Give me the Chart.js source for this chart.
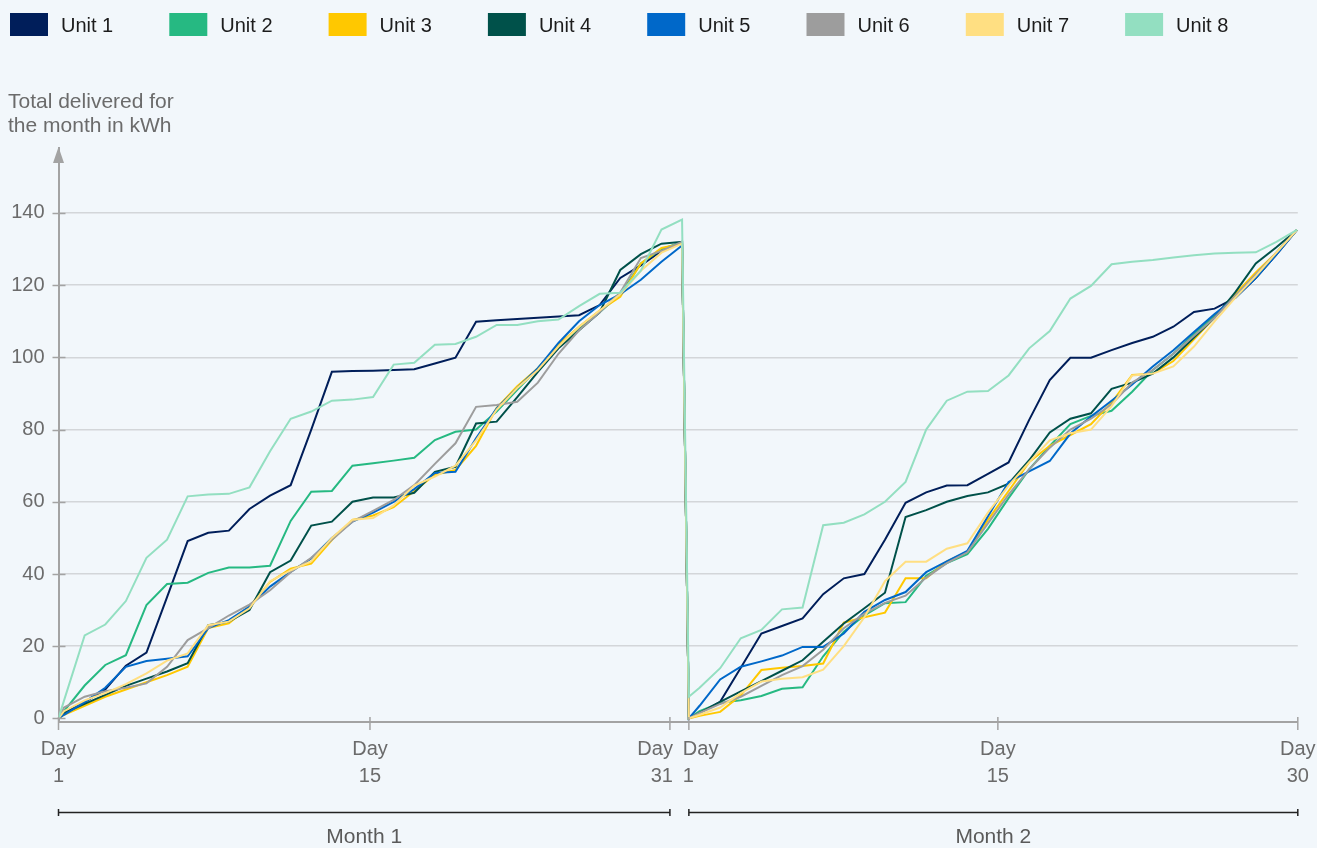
<!DOCTYPE html>
<html>
<head>
<meta charset="utf-8">
<title>Total delivered per unit</title>
<script src="https://cdn.jsdelivr.net/npm/chart.js@4.4.1/dist/chart.umd.min.js"></script>
<style>
  html, body { margin: 0; padding: 0; background: #f2f7fb; }
  #wrap { width: 1317px; height: 848px; }
</style>
</head>
<body>
<div id="wrap"><canvas id="deliveryChart" width="1317" height="848"></canvas></div>
<script>
// Series names and colours
const unitNames = ['Unit 1', 'Unit 2', 'Unit 3', 'Unit 4', 'Unit 5', 'Unit 6', 'Unit 7', 'Unit 8'];
const unitColors = ['#001e5a', '#26b982', '#ffc800', '#00514a', '#0068c9', '#9d9d9d', '#ffdf82', '#93dfc1'];

// Days of each month; 0 = meter reset at the start of the month
const month1Days = [0, 1, 2, 3, 4, 5, 6, 7, 8, 9, 10, 11, 12, 13, 14, 15, 16, 17, 18, 19, 20, 21, 22, 23, 24, 25, 26, 27, 28, 29, 30, 31];
const month2Days = [0, 1, 2, 3, 4, 5, 6, 7, 8, 9, 10, 11, 12, 13, 14, 15, 16, 17, 18, 19, 20, 21, 22, 23, 24, 25, 26, 27, 28, 29, 30];

// Cumulative kWh, month 1
const unit1Month1 = [0, 1.5, 4.5, 8, 14.6, 18.2, 33.6, 49.1, 51.4, 52, 58, 61.7, 64.6, 80, 96, 96.2, 96.3, 96.5, 96.7, 98.3, 99.9, 109.9, 110.3, 110.6, 111, 111.3, 111.7, 114.5, 122, 125.5, 129.5, 132];
const unit2Month1 = [0, 2, 9.1, 14.8, 17.5, 31.4, 37.2, 37.6, 40.3, 41.8, 41.8, 42.3, 54.7, 62.8, 63, 70, 70.7, 71.4, 72.2, 77.1, 79.4, 80, 85, 91, 97, 103, 108, 112.5, 117.5, 126, 130, 132];
const unit3Month1 = [0, 1, 3.5, 6, 8, 10, 12, 14.3, 25, 26.3, 31, 37.8, 41.5, 42.9, 49.4, 55, 56.2, 58.5, 63, 67.5, 68.8, 75.5, 86, 92, 97, 103.5, 108.5, 113, 116.8, 126, 130.3, 131.5];
const unit4Month1 = [0, 1.5, 4, 6.5, 9, 11, 13, 15.3, 25.8, 26.8, 30, 40.5, 43.7, 53.4, 54.5, 60, 61.2, 61.2, 62.5, 68.3, 69.7, 81.7, 82.2, 89, 96, 102.5, 107.5, 112.5, 124.2, 128.6, 131.5, 132];
const unit5Month1 = [0, 1, 4.5, 8.5, 14.3, 15.9, 16.5, 17.2, 25, 27.2, 31, 36.5, 40.6, 44.3, 50, 54.5, 57, 60, 63.5, 68, 68.3, 77.6, 85.9, 91.5, 97, 104, 110, 114.5, 117.5, 121.5, 126.5, 131];
const unit6Month1 = [0, 3, 6, 7.5, 8.5, 9.7, 14.3, 21.7, 25, 28.5, 31.5, 35.5, 40.5, 44.5, 49.5, 54.5, 57.5, 60.5, 64.6, 70.5, 76.2, 86.3, 86.8, 87.7, 93, 101, 107.5, 112.5, 118, 127.5, 129.5, 132];
const unit7Month1 = [0, 2, 5, 7, 9.5, 12.5, 16, 18, 25.8, 26.8, 30.5, 38, 41, 43.5, 50, 55, 55.5, 59, 64.5, 67, 70, 77, 85.5, 91.5, 96.5, 103, 108.5, 113, 117.5, 124, 129, 131.5];
const unit8Month1 = [0, 5, 23, 26, 32.5, 44.5, 49.5, 61.5, 62, 62.2, 64, 74, 83, 85, 88, 88.3, 89, 98, 98.5, 103.5, 103.7, 105.7, 109, 109, 110, 110.5, 114.2, 117.6, 117.9, 124, 135.4, 138.2];

// Cumulative kWh, month 2
const unit1Month2 = [0, 1.5, 4.6, 14, 23.5, 25.6, 27.7, 34.4, 38.8, 40, 49.5, 59.7, 62.6, 64.5, 64.6, 67.7, 70.9, 82.7, 93.7, 99.9, 99.9, 102, 104, 105.7, 108.5, 112.6, 113.5, 116.5, 122, 128.5, 135.3];
const unit2Month2 = [0, 2, 4.3, 5, 6.2, 8.2, 8.6, 17.2, 24, 28.5, 31.9, 32.2, 39.5, 43, 45.5, 52.5, 61, 69, 75.5, 81.5, 83.8, 85.2, 90.5, 96.5, 101, 106.5, 111.5, 117, 123, 129, 135.3];
const unit3Month2 = [0, 0.7, 1.8, 6.4, 13.4, 14, 14.5, 15.2, 26.5, 28, 29.3, 38.8, 38.8, 43.5, 46.1, 55, 63, 71, 75.5, 78.5, 81.5, 87.5, 95.1, 95.5, 99, 105, 111, 117.5, 123.5, 129, 135.3];
const unit4Month2 = [0, 1.5, 4.6, 7.5, 10.3, 13.2, 16.1, 21.2, 26.3, 30.5, 34.8, 55.8, 57.7, 60, 61.6, 62.6, 65, 71.5, 79.2, 83, 84.5, 91.3, 93, 95.5, 100, 105.5, 111, 118, 126, 130.5, 135.3];
const unit5Month2 = [0, 3.5, 10.8, 14.3, 15.8, 17.4, 19.8, 19.8, 23.5, 29.5, 32.8, 35, 40.5, 43.5, 46.4, 56, 65.5, 68.4, 71.3, 78.9, 83.6, 88, 92.5, 97.5, 102, 107, 112, 116.5, 122, 128.5, 135.3];
const unit6Month2 = [0, 1.5, 4, 6, 9, 12, 14.5, 19, 25, 29, 32, 34, 39, 43, 46, 54, 62, 69, 75, 80, 83, 87, 93, 96.5, 101, 106, 111, 117, 123, 129, 135.3];
const unit7Month2 = [0, 1, 3, 7, 10.2, 11, 11.4, 13.5, 20, 28, 38, 43.4, 43.4, 47, 48.5, 57, 64.5, 71, 77, 79, 80, 86.5, 95, 95.5, 97.5, 103, 110, 116.5, 122.5, 129, 135.3];
const unit8Month2 = [6, 8.5, 13.9, 22.2, 24.5, 30.2, 30.7, 53.5, 54.2, 56.5, 60, 65.5, 80, 88, 90.5, 90.7, 95, 102.5, 107.3, 116.3, 119.8, 125.8, 126.5, 127, 127.7, 128.3, 128.8, 129, 129.1, 132, 135.3];

const month1Values = [unit1Month1, unit2Month1, unit3Month1, unit4Month1, unit5Month1, unit6Month1, unit7Month1, unit8Month1];
const month2Values = [unit1Month2, unit2Month2, unit3Month2, unit4Month2, unit5Month2, unit6Month2, unit7Month2, unit8Month2];

// Axis labels
const yTickValues = [0, 20, 40, 60, 80, 100, 120, 140];
const xTickLabels = [['Day', '1'], ['Day', '15'], ['Day', '31'], ['Day', '1'], ['Day', '15'], ['Day', '30']];
const monthLabels = ['Month 1', 'Month 2'];

// Position of the readings on the time axis (1 unit = 1 day)
const MONTH1_START = 0, MONTH1_FIRST = 0.27;
const MONTH2_START = 30.6, MONTH2_FIRST = 31.12;
const X_MAX = 60.16;
const xTickPos = [0, 15.12, 29.68, 30.6, 45.6, 60.16];
const xTickAlign = ['center', 'center', 'right', 'left', 'center', 'center'];

const FONT = '"Liberation Sans", Arial, Helvetica, sans-serif';
const BG = '#f2f7fb';
const AXIS = '#a3a3a3';
const TEXT = '#6b6b6b';

function dayToX(day, start, first) {
    return day === 0 ? start : first + day - 1;
}

function buildPoints(i) {
    const pts = [];
    month1Days.forEach((d, k) => pts.push({ x: dayToX(d, MONTH1_START, MONTH1_FIRST), y: month1Values[i][k] }));
    month2Days.forEach((d, k) => pts.push({ x: dayToX(d, MONTH2_START, MONTH2_FIRST), y: month2Values[i][k] }));
    return pts;
}

// Legend, title, arrow, day ticks and month brackets
const decorPlugin = {
    id: 'decor',
    beforeDraw(chart) {
        const c = chart.ctx;
        c.save();
        c.fillStyle = BG;
        c.fillRect(0, 0, chart.width, chart.height);
        c.restore();
    },
    afterDraw(chart) {
        const c = chart.ctx;
        const xs = chart.scales.x;
        const ys = chart.scales.y;
        const area = chart.chartArea;
        c.save();

        // legend
        c.font = '20px ' + FONT;
        c.textAlign = 'left';
        c.textBaseline = 'alphabetic';
        unitNames.forEach((name, i) => {
            const lx = 10 + i * 159.3;
            c.fillStyle = unitColors[i];
            c.fillRect(lx, 13, 38, 23);
            c.fillStyle = '#1c1c1c';
            c.fillText(name, lx + 51, 31.5);
        });

        // axis title
        c.fillStyle = TEXT;
        c.font = '21px ' + FONT;
        c.fillText('Total delivered for', 8, 108);
        c.fillText('the month in kWh', 8, 132);

        // y axis arrow
        const ax = area.left;
        c.fillStyle = AXIS;
        c.beginPath();
        c.moveTo(ax, 147);
        c.lineTo(ax - 5.5, 163);
        c.lineTo(ax + 5.5, 163);
        c.closePath();
        c.fill();

        // y tick marks across the axis
        c.strokeStyle = AXIS;
        c.lineWidth = 1.5;
        yTickValues.forEach(v => {
            const py = Math.round(ys.getPixelForValue(v)) + 0.5;
            c.beginPath();
            c.moveTo(ax - 6, py);
            c.lineTo(ax + 7, py);
            c.stroke();
        });

        // x tick marks and labels
        const axisY = area.bottom;
        c.font = '20px ' + FONT;
        c.fillStyle = TEXT;
        xTickPos.forEach((pos, i) => {
            const px = xs.getPixelForValue(pos);
            c.beginPath();
            c.moveTo(px, axisY - 5);
            c.lineTo(px, axisY + 8);
            c.stroke();
            let tx = px;
            if (xTickAlign[i] === 'right') tx = px + 3;
            if (xTickAlign[i] === 'left') tx = px - 6;
            c.textAlign = xTickAlign[i];
            c.fillText(xTickLabels[i][0], tx, 755);
            c.fillText(xTickLabels[i][1], tx, 782);
        });

        // month brackets
        const ranges = [[xTickPos[0], xTickPos[2]], [xTickPos[3], xTickPos[5]]];
        c.strokeStyle = '#222';
        c.lineWidth = 1.5;
        c.font = '21px ' + FONT;
        c.fillStyle = '#5a5a5a';
        c.textAlign = 'center';
        ranges.forEach((r, i) => {
            const x0 = xs.getPixelForValue(r[0]);
            const x1 = xs.getPixelForValue(r[1]);
            c.beginPath();
            c.moveTo(x0, 812.5); c.lineTo(x1, 812.5);
            c.moveTo(x0, 809); c.lineTo(x0, 816);
            c.moveTo(x1, 809); c.lineTo(x1, 816);
            c.stroke();
            c.fillText(monthLabels[i], (x0 + x1) / 2, 843);
        });
        c.restore();
    }
};

const datasets = unitNames.map((name, i) => ({
    label: name,
    data: buildPoints(i),
    borderColor: unitColors[i],
    backgroundColor: unitColors[i],
    borderWidth: 2,
    pointRadius: 0,
    tension: 0,
    fill: false,
    order: unitNames.length - 1 - i
}));

new Chart(document.getElementById('deliveryChart'), {
    type: 'line',
    data: { datasets: datasets },
    options: {
        responsive: false,
        animation: false,
        devicePixelRatio: 1,
        layout: { padding: { left: 0, right: 19.2, top: 148, bottom: 0 } },
        plugins: {
            legend: { display: false },
            tooltip: { enabled: false }
        },
        scales: {
            x: {
                type: 'linear',
                min: 0,
                max: X_MAX,
                grid: { display: false },
                border: { display: true, color: AXIS, width: 2 },
                ticks: { display: false },
                afterFit: s => { s.height = 126; }
            },
            y: {
                min: -1,
                max: 158,
                afterBuildTicks: s => { s.ticks = yTickValues.map(v => ({ value: v })); },
                afterFit: s => { s.width = 58.5; },
                grid: {
                    color: ctx => (ctx.tick && ctx.tick.value === 0) ? 'rgba(0,0,0,0)' : '#d3d6d9',
                    lineWidth: 1.5,
                    drawTicks: false
                },
                border: { display: true, color: AXIS, width: 2 },
                ticks: {
                    padding: 14,
                    color: TEXT,
                    font: { family: FONT, size: 20 }
                }
            }
        }
    },
    plugins: [decorPlugin]
});
</script>
</body>
</html>
